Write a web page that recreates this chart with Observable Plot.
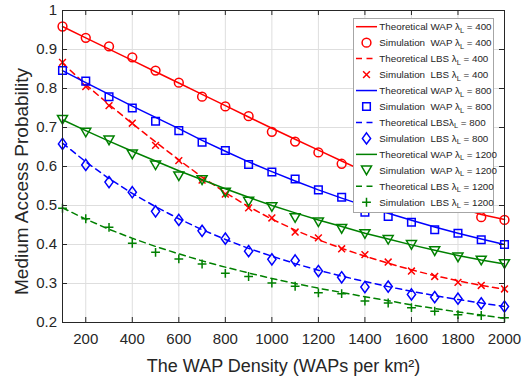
<!DOCTYPE html>
<html><head><meta charset="utf-8">
<script src="https://cdn.jsdelivr.net/npm/d3@7"></script>
<script src="https://cdn.jsdelivr.net/npm/@observablehq/plot@0.6"></script>
<style>body{margin:0;background:#fff}#chart{width:529px;height:378px}</style>
</head><body><div id="chart"></div>
<script>
// ---- data ----
const density = [100,200,300,400,500,600,700,800,900,1000,1100,1200,1300,1400,1500,1600,1700,1800,1900,2000];
const xTicks = [200,400,600,800,1000,1200,1400,1600,1800,2000];
const yTicks = [0.2,0.3,0.4,0.5,0.6,0.7,0.8,0.9,1];
const xLabel = "The WAP Density (WAPs per km²)";
const yLabel = "Medium Access Probability";

const theoWAP400  = [0.959,0.930,0.901,0.872,0.843,0.814,0.785,0.756,0.727,0.698,0.670,0.642,0.614,0.587,0.562,0.538,0.516,0.496,0.477,0.464];
const simWAP400   = [0.959,0.930,0.908,0.880,0.846,0.815,0.779,0.754,0.729,0.689,0.664,0.636,0.607,0.585,0.560,0.537,0.515,0.497,0.470,0.463];
const theoLBS400  = [0.865,0.810,0.759,0.710,0.663,0.617,0.573,0.533,0.497,0.465,0.437,0.412,0.390,0.370,0.352,0.335,0.320,0.307,0.295,0.285];
const simLBS400   = [0.867,0.805,0.756,0.711,0.654,0.615,0.565,0.529,0.494,0.468,0.432,0.417,0.389,0.374,0.355,0.332,0.318,0.303,0.295,0.286];
const theoWAP800  = [0.846,0.815,0.785,0.755,0.726,0.697,0.667,0.639,0.612,0.587,0.563,0.540,0.519,0.499,0.480,0.462,0.445,0.429,0.414,0.400];
const simWAP800   = [0.846,0.819,0.779,0.750,0.716,0.692,0.662,0.641,0.605,0.586,0.568,0.540,0.521,0.483,0.472,0.457,0.438,0.429,0.412,0.400];
const theoLBS800  = [0.660,0.612,0.569,0.531,0.497,0.466,0.438,0.413,0.390,0.370,0.351,0.334,0.319,0.305,0.292,0.280,0.269,0.259,0.250,0.241];
const simLBS800   = [0.658,0.604,0.560,0.534,0.485,0.463,0.435,0.415,0.383,0.362,0.359,0.332,0.316,0.291,0.292,0.272,0.265,0.261,0.249,0.241];
const theoWAP1200 = [0.720,0.692,0.665,0.639,0.614,0.589,0.566,0.543,0.521,0.500,0.481,0.463,0.446,0.429,0.414,0.399,0.385,0.372,0.360,0.350];
const simWAP1200  = [0.720,0.687,0.667,0.631,0.603,0.575,0.565,0.533,0.510,0.496,0.468,0.457,0.440,0.427,0.412,0.399,0.383,0.367,0.359,0.350];
const theoLBS1200 = [0.494,0.465,0.439,0.416,0.395,0.376,0.358,0.342,0.327,0.313,0.300,0.288,0.277,0.266,0.256,0.245,0.236,0.227,0.219,0.211];
const simLBS1200  = [0.493,0.466,0.444,0.403,0.380,0.363,0.350,0.326,0.318,0.301,0.293,0.276,0.274,0.255,0.250,0.238,0.229,0.220,0.218,0.212];

const legendPrefixes = ["Theoretical WAP ","Simulation  WAP ","Theoretical LBS ","Simulation  LBS ",
                        "Theoretical WAP ","Simulation  WAP ","Theoretical LBS","Simulation  LBS ",
                        "Theoretical WAP ","Simulation  WAP ","Theoretical LBS ","Simulation  LBS "];
const legendLambdas = ["400","400","400","400","800","800","800","800","1200","1200","1200","1200"];

// ---- styling ----
const RED = "#ff0000", BLUE = "#0000ff", GREEN = "#008000", INK = "#262626";
const W = 529, H = 378, ML = 62, MR = 25, MT = 10, MB = 56;
const PW = W - ML - MR, PH = H - MT - MB;

// MATLAB-like marker shapes (sizes relative to r = 4.5)
const kOf = s => Math.sqrt(s / Math.PI) / 4.5;
const circleM = {draw(c, s){const R = 4.4*kOf(s); c.moveTo(R,0); c.arc(0,0,R,0,2*Math.PI); c.closePath();}};
const squareM = {draw(c, s){const a = 3.8*kOf(s); c.moveTo(-a,-a); c.lineTo(a,-a); c.lineTo(a,a); c.lineTo(-a,a); c.closePath();}};
const diamondM = {draw(c, s){const k = kOf(s), w = 4.1*k, h = 5.6*k; c.moveTo(0,-h); c.lineTo(w,0); c.lineTo(0,h); c.lineTo(-w,0); c.closePath();}};
const triDownM = {draw(c, s){const k = kOf(s), w = 5*k, h = 4.3*k; c.moveTo(-w,-h); c.lineTo(w,-h); c.lineTo(0,h); c.closePath();}};
const timesM = {draw(c, s){const a = 3.4*kOf(s); c.moveTo(-a,-a); c.lineTo(a,a); c.moveTo(a,-a); c.lineTo(-a,a);}};
const plusM = {draw(c, s){const a = 4.4*kOf(s); c.moveTo(-a,0); c.lineTo(a,0); c.moveTo(0,-a); c.lineTo(0,a);}};

const series = [
  {vals: theoWAP400,  color: RED,   type: "line"},
  {vals: simWAP400,   color: RED,   type: "dot", symbol: circleM},
  {vals: theoLBS400,  color: RED,   type: "line", dash: "6,4.5"},
  {vals: simLBS400,   color: RED,   type: "dot", symbol: timesM},
  {vals: theoWAP800,  color: BLUE,  type: "line"},
  {vals: simWAP800,   color: BLUE,  type: "dot", symbol: squareM},
  {vals: theoLBS800,  color: BLUE,  type: "line", dash: "6,4.5"},
  {vals: simLBS800,   color: BLUE,  type: "dot", symbol: diamondM},
  {vals: theoWAP1200, color: GREEN, type: "line"},
  {vals: simWAP1200,  color: GREEN, type: "dot", symbol: triDownM},
  {vals: theoLBS1200, color: GREEN, type: "line", dash: "6,4.5"},
  {vals: simLBS1200,  color: GREEN, type: "dot", symbol: plusM}
];
const rows = vals => density.map((x, i) => ({x, y: vals[i]}));

const dataMarks = series.map(s => s.type === "line"
  ? Plot.line(rows(s.vals), {x: "x", y: "y", stroke: s.color, strokeWidth: 1.5, strokeDasharray: s.dash ?? null})
  : Plot.dot(rows(s.vals), {x: "x", y: "y", symbol: s.symbol, r: 4.5, stroke: s.color, fill: "none", strokeWidth: 1.5}));

const svg = Plot.plot({
  width: W, height: H,
  marginLeft: ML, marginRight: MR, marginTop: MT, marginBottom: MB,
  style: {fontFamily: "'Liberation Sans', Arial, Helvetica, sans-serif", fontSize: "15px", color: INK, background: "#fff", overflow: "visible"},
  x: {domain: [100, 2000]},
  y: {domain: [0.2, 1]},
  marks: [
    Plot.gridX(xTicks, {stroke: "#dedede", strokeOpacity: 1}),
    Plot.gridY(yTicks, {stroke: "#dedede", strokeOpacity: 1}),
    ...dataMarks,
    Plot.frame({stroke: INK, strokeWidth: 1}),
    Plot.tickX(xTicks, {x: d => d, insetTop: PH - 5, stroke: INK}),
    Plot.tickX(xTicks, {x: d => d, insetBottom: PH - 5, stroke: INK}),
    Plot.tickY(yTicks, {y: d => d, insetRight: PW - 5, stroke: INK}),
    Plot.tickY(yTicks, {y: d => d, insetLeft: PW - 5, stroke: INK}),
    Plot.axisX(xTicks, {tickSize: 0, tickPadding: 11, fontSize: 15, tickFormat: d => String(d), label: null}),
    Plot.axisY(yTicks, {tickSize: 0, tickPadding: 5.5, fontSize: 15, tickFormat: d => String(+d.toFixed(1)), label: null}),
    Plot.text([xLabel], {text: d => d, frameAnchor: "bottom", dy: 44, fontSize: 18, textAnchor: "middle", lineAnchor: "middle", fill: INK}),
    Plot.text([yLabel], {text: d => d, frameAnchor: "left", dx: -40.5, dy: 15, rotate: -90, fontSize: 19, textAnchor: "middle", lineAnchor: "middle", fill: INK})
  ]
});
document.getElementById("chart").appendChild(svg);

// ---- legend ----
const lg = d3.select(svg).append("g")
  .attr("font-family", "'Liberation Sans', Arial, sans-serif").attr("font-size", 9.8).attr("text-anchor", "start");
lg.append("rect").attr("x", 353.5).attr("y", 18.5).attr("width", 140).attr("height", 194)
  .attr("fill", "#fff").attr("stroke", "#a6a6a6").attr("stroke-width", 1);
series.forEach((s, i) => {
  const cy = 26.7 + i * 15.96;
  if (s.type === "line") {
    lg.append("line").attr("x1", 356).attr("x2", 377).attr("y1", cy).attr("y2", cy)
      .attr("stroke", s.color).attr("stroke-width", 1.5).attr("stroke-dasharray", s.dash ?? null);
  } else {
    const p = d3.path(); s.symbol.draw(p, 4.5 * 4.5 * Math.PI);
    lg.append("path").attr("transform", `translate(366.5,${cy})`).attr("d", p.toString())
      .attr("fill", "none").attr("stroke", s.color).attr("stroke-width", 1.5);
  }
  const t = lg.append("text").attr("x", 379.3).attr("y", cy + 3.4).attr("fill", INK).attr("text-anchor", "start").style("white-space", "pre");
  t.append("tspan").text(legendPrefixes[i] + "λ");
  t.append("tspan").attr("dy", 2.6).attr("font-size", 7.5).text("L");
  t.append("tspan").attr("dy", -2.6).text(" = " + legendLambdas[i]);
});
</script>
</body></html>
